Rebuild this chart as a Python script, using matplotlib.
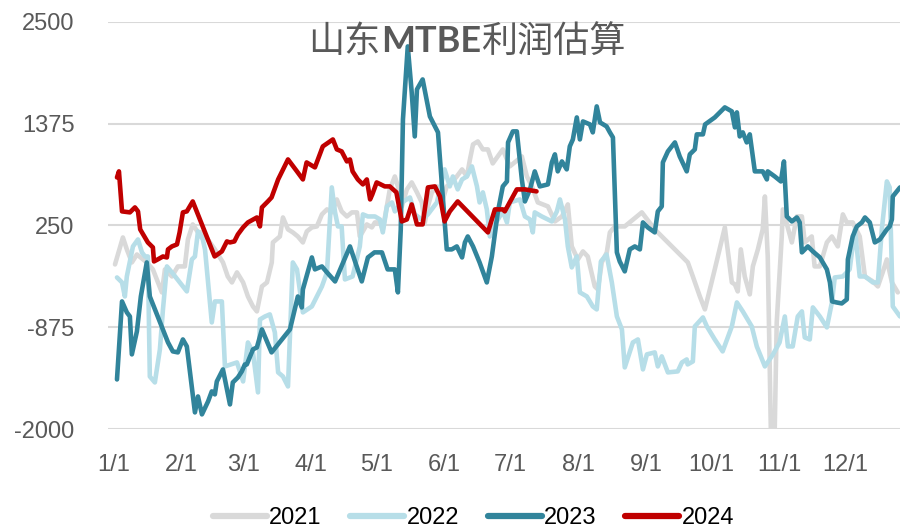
import matplotlib
matplotlib.use("Agg")
import matplotlib.pyplot as plt

plt.rcParams['font.family'] = ['Noto Sans CJK SC', 'DejaVu Sans']
narrow = ['Liberation Sans Narrow', 'Liberation Sans', 'DejaVu Sans']

# day of year, profit (yuan/t)
days_2021 = [0.5, 4.1, 5.9, 8.2, 10.5, 15, 17.8, 21.9, 23.3, 26.5, 29.2, 32.4, 33.8, 36, 38.4, 40.6,
             46.1, 49.8, 52, 53.9, 56.2, 59, 61.2, 63.5, 65.3, 67.6, 69.9, 72.1, 72.6, 75.8, 77.2, 79.5,
             81.7, 84, 86.3, 88.1, 90.4, 92.7, 95, 97.3, 99.5, 101.8, 104, 106.4, 108.7, 111, 112.3,
             113.7, 115.5, 117.8, 119.2, 121.5, 122.8, 126, 128.3, 129.7, 131.5, 133.8, 136, 138.4,
             140.6, 142, 143.4, 145.2, 147.5, 149.8, 152, 154.3, 156.6, 159, 161.2, 162.6, 164, 166.2,
             168.5, 170.8, 173, 177.6, 180.8, 186.3, 188.6, 190.9, 193.6, 198.2, 201.4, 204.6, 207.3,
             209.1, 211.9, 214.2, 216.4, 219.6, 221, 222.8, 225.1, 226.5, 228.8, 233.3, 241.1, 242.5,
             247, 253, 259.4, 262.1, 264.4, 267.6, 269.9, 274.4, 279, 282.2, 283.6, 284.9, 286.3,
             288.1, 290.4, 291.8, 294.1, 296.3, 297.3, 298.6, 300, 301.8, 302.7, 305, 305.5, 309.6,
             311.9, 314.2, 315.5, 318.7, 320, 322.4, 325.6, 327.9, 330.6, 332.9, 334.7, 337.4, 340.6,
             343, 346.6, 348.9, 351.1, 353, 355.3, 358]
vals_2021 = [-181, 117, -15, -159, -71, -159, -236, -490, -236, -314, -203, -203, 95, 261, 173, 173,
             -15, -159, -314, -380, -269, -380, -535, -645, -700, -424, -380, -159, 62, 128, 338, 206,
             173, 128, 62, 184, 228, 239, 372, 427, 394, 537, 405, 349, 394, 394, 128,
             184, 261, 228, 283, 283, 206, 648, 791, 681, 460, 648, 725, 615,
             504, 283, 460, 615, 681, 504, 681, 725, 791, 869, 791, 979, 1145, 1178,
             1090, 1090, 935, 1090, 902, 1012, 791, 681, 504, 460, 294, 349, 482,
             18, -126, -37, -93, -424, -457, -159, -48, 173, 239, 239, 394, 349,
             206, 62, -93, -159, -314, -535, -678, -236, 228, -380, -402, -479, -15,
             -314, -512, -203, -15, 206, 570, -93, -1990, -1990, -822, 128, 427, 62,
             349, 349, 62, 128, -203, -203, 62, 128, 18, 372, 283, 283, 128,
             -314, -369, -424, -269, -126, -380, -490]

days_2022 = [1.4, 3.7, 5, 5.9, 8.7, 11, 12.8, 14.2, 15.5, 16.4, 18.7, 21, 22.4, 24.2, 26.5, 33.3,
             35.6, 37, 38.4, 40.6, 41.6, 44.7, 46.1, 49.3, 50.7, 56.2, 59, 61.2, 63.5, 65.8, 66.7,
             69, 71.2, 73.5, 75, 77.2, 79.5, 81.7, 83.6, 86.3, 90.4, 95, 97.3, 99.5, 101, 102.3, 104,
             105.5, 109, 112.3, 113.7, 116, 119.2, 121.5, 122.8, 124.7, 127, 128.3, 131.5, 135.2,
             137.4, 140.6, 143.4, 147.5, 151, 153.4, 154.8, 157, 159, 161.2, 163.5, 165.8, 167,
             168.5, 170.3, 171.7, 174, 177.6, 179.5, 180.8, 185.4, 187.7, 190, 191.3, 192.2, 195.4,
             200, 202.3, 203.7, 206, 207.3, 209.1, 211.4, 212.8, 216, 218.7, 220.5, 222.4, 225,
             227.4, 229.7, 232, 233.3, 237, 239.3, 241.6, 243.4, 247, 248.4, 250.2, 253, 257.5,
             259.4, 261.6, 262, 264.4, 265.3, 269, 270.8, 274.4, 278, 282.2, 284.5, 287.2, 291.3,
             293.6, 297.3, 301, 304, 306.4, 307.8, 310, 312.3, 314.2, 315.5, 317.8, 319.2, 322.4,
             325.6, 327.9, 329.2, 332.9, 336, 338.4, 340.6, 343, 346.6, 348.9, 350.7, 353, 354.3,
             355.7, 359]
vals_2022 = [-325, -380, -535, -314, 18, 95, -48, -93, -93, -1419, -1485, -1120, -678, -203, -269, -479,
             -126, -93, 184, 95, -15, -822, -590, -590, -1308, -1264, -1474, -1043, -1153, -1595, -789,
             -756, -733, -932, -1374, -1419, -1529, -159, -236, -711, -645, -424, -269, 670, 394, 239, 239,
             -347, -314, 18, 372, 349, 349, 316, 173, 460, 504, 405, 504, 559,
             372, 316, 372, 504, 869, 681, 791, 648, 758, 791, 902, 681, 504,
             615, 427, 128, 261, 405, 283, 504, 537, 349, 316, 173, 394, 349,
             294, 405, 537, 316, 18, -214, -93, -490, -535, -645, -678, -148, -71,
             -380, -756, -899, -1319, -1043, -1010, -1341, -1175, -1153, -1308, -1197, -1374, -1363,
             -1264, -1231, -1286, -1253, -866, -767, -866, -1010, -1142, -866, -601, -700, -866,
             -1087, -1308, -1175, -1043, -756, -1087, -1087, -756, -700, -988, -1010, -656, -756,
             -877, -601, -325, -314, -236, 206, -314, -314, -380, -380, 206, 736, 670,
             -645, -756]

days_2023 = [1.4, 3.7, 5.9, 7.3, 8.2, 10.5, 12.3, 15, 16.4, 20, 24.7, 26.9, 29.2, 31.5, 33.3, 37,
             38.4, 40.2, 43, 44.7, 46.1, 47, 49.8, 53, 54.3, 56.6, 58.4, 59.8, 60.7, 63.5, 65.3, 67.6,
             72, 80.4, 84, 85.8, 86.3, 90.4, 91.8, 95, 97.3, 101, 107.8, 113.2, 116, 119, 122.4, 125,
             128.3, 129.7, 131, 132, 134.2, 136, 137.4, 138.4, 141, 144.3, 148, 152, 154.3, 156.6,
             159, 160.3, 161.6, 164, 167, 170.3, 172.6, 175.3, 177.6, 179.5, 180, 182.2, 184, 186.3,
             187.7, 190, 192.2, 194.5, 198.2, 200, 201.4, 202.7, 204.6, 206.8, 208.2, 209.6, 211.4,
             212.8, 214.2, 217.4, 218.7, 220.5, 222, 225, 226.5, 227.9, 229.7, 231, 233.3, 235.6,
             237.9, 240.2, 241.6, 243.8, 247, 248.4, 250.2, 250.7, 253, 256.2, 258.4, 261.6, 263,
             265.3, 266.2, 269, 270, 274.4, 279, 282.2, 283.6, 284.5, 285.8, 287.2, 289, 290.4,
             292.7, 294, 296.3, 298.2, 298.6, 301.8, 304.6, 306, 307.3, 309.6, 311.9, 313.2, 314.2,
             316.9, 319.2, 322.4, 325.6, 327, 328, 330, 332.4, 334.7, 335.2, 337.4, 339.3, 341.6,
             343, 345.2, 347.5, 349.8, 353, 354.3, 355.3, 355.7, 359]
vals_2023 = [-1452, -590, -711, -756, -1175, -921, -535, -159, -535, -756, -1043, -1142, -1153, -1010, -1087, -1816,
             -1640, -1838, -1695, -1584, -1617, -1474, -1341, -1728, -1485, -1430, -1363, -1286, -1286, -1120, -1098, -899,
             -1153, -899, -535, -656, -457, -104, -236, -203, -269, -369, 18, -369, -104, -48, -48, -236,
             -236, -490, 206, 1421, 2228, 1720, 1233, 1753, 1863, 1454, 1278, -15, -15, 18,
             -104, 62, 128, 18, -159, -380, -93, 394, 681, 736, 1167, 1289, 1289, 758,
             515, 648, 847, 681, 703, 946, 1035, 847, 957, 869, 1123, 1200, 1443,
             1200, 1399, 1366, 1278, 1565, 1388, 1344, 1278, 1222, -48, -148, -258, -15,
             18, -15, 283, 228, 173, 405, 460, 946, 1068, 1167, 1012, 847, 1035,
             1090, 1256, 1256, 1366, 1443, 1554, 1510, 1333, 1499, 1233, 1278, 1167, 1256,
             847, 847, 847, 758, 847, 791, 736, 957, 349, 294, 338, 283, -48,
             18, -37, -104, -236, -380, -590, -601, -612, -568, -126, 128, 239, 283,
             338, 283, 62, 95, 206, 239, 316, 570, 670]

days_2024 = [1.4, 2.3, 3.7, 7.3, 9.6, 11, 12, 15.5, 17.8, 18.3, 20, 22.4, 24.2, 24.7, 26.5, 28.8,
             30, 31.5, 33.3, 36, 46, 49.3, 51.6, 53, 55, 56.6, 59, 61.2, 65.3, 66.7, 67.6, 70.3, 72,
             75, 79.5, 83.6, 86.3, 88, 91.8, 95.4, 100, 101.8, 104, 106.4, 107.8, 109, 111.4, 113.7,
             115.5, 117, 118, 120, 123.7, 126, 129, 131.5, 133.8, 136, 138.4, 141, 143.4, 146.6,
             148.9, 151, 153.4, 157, 170.8, 174, 177.6, 178.5, 184, 187.7, 193]
vals_2024 = [780, 847, 405, 394, 449, 405, 206, 62, 7, -148, -126, -93, -104, -15, 18, 40,
             173, 394, 405, 515, -93, -37, 73, 62, 73, 150, 228, 283, 338, 239, 449, 515, 559,
             758, 979, 847, 758, 946, 891, 1123, 1200, 1090, 1068, 957, 979, 847, 758, 703,
             758, 537, 592, 725, 681, 681, 615, 294, 316, 482, 261, 261, 670, 681,
             570, 294, 405, 515, 173, 427, 427, 405, 648, 648, 626]

month_days = [0, 31, 59, 90, 120, 151, 181, 212, 243, 273, 304, 334]
month_labels = ['1/1', '2/1', '3/1', '4/1', '5/1', '6/1', '7/1', '8/1', '9/1', '10/1', '11/1', '12/1']
y_ticks = [-2000, -875, 250, 1375, 2500]

fig = plt.figure(figsize=(9, 5.31), dpi=100)
ax = fig.add_axes([0.12, 0.192, 0.88, 0.767])

series = [
    (days_2021, vals_2021, '#d9d9d9', '2021'),
    (days_2022, vals_2022, '#b7dee8', '2022'),
    (days_2023, vals_2023, '#31849b', '2023'),
    (days_2024, vals_2024, '#c00000', '2024'),
]
for d, v, c, name in series:
    ax.plot(d, v, color=c, lw=3.3, label=name, solid_joinstyle='round', solid_capstyle='round')

ax.set_xlim(-2.7, 359)
ax.set_ylim(-2000, 2500)
ax.set_yticks(y_ticks)
ax.set_yticklabels([str(t) for t in y_ticks], family=narrow)
ax.set_xticks(month_days)
ax.set_xticklabels(month_labels, family=narrow)
ax.yaxis.grid(True, color='#d9d9d9', lw=1.5)
ax.set_axisbelow(True)
for s in ax.spines.values():
    s.set_visible(False)
ax.tick_params(axis='both', length=0, labelsize=17, labelcolor='#595959')
ax.tick_params(axis='x', pad=18)
ax.tick_params(axis='y', pad=24)

# title: Chinese parts regular, MTBE bold
t1 = ax.text(0.253, 0.951, '山东', transform=ax.transAxes, ha='left', va='center',
             fontsize=26, color='#595959')
t2 = ax.annotate('MTBE', xy=(1, 0.5), xycoords=t1, ha='left', va='center',
                 fontsize=26, color='#595959', weight='bold', family=['Lato', 'DejaVu Sans'])
ax.annotate('利润估算', xy=(1, 0.5), xycoords=t2, ha='left', va='center',
            fontsize=26, color='#595959')

leg = fig.legend(loc='center', ncol=4, bbox_to_anchor=(0.526, 0.024), frameon=False,
                 prop={'family': narrow, 'size': 17}, handlelength=2.3, handletextpad=0.1,
                 columnspacing=1.2)
for line in leg.get_lines():
    line.set_linewidth(4.5)

fig.savefig('out.png', dpi=100)
